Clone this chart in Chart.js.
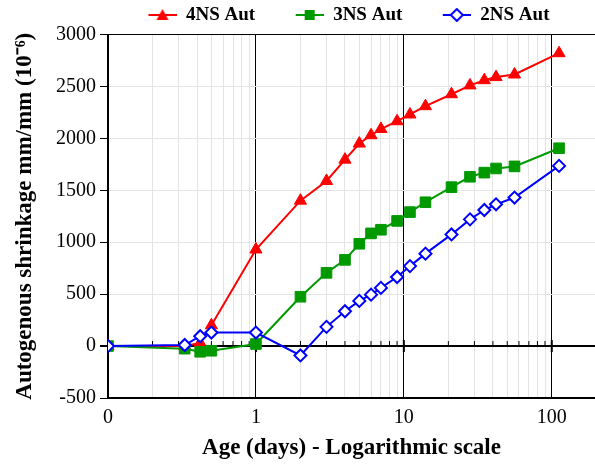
<!DOCTYPE html>
<html lang="en">
<head>
    <meta charset="UTF-8">
    <title>Autogenous shrinkage</title>
    <script src="https://cdn.jsdelivr.net/npm/chart.js"></script>
    <style>
        body {
            margin: 0;
            padding: 0;
            background-color: #fff;
            overflow: hidden;
        }
    </style>
</head>
<body>
<canvas id="shrinkChart" width="595" height="466"></canvas>

<script>
    // Age in days (0.1 stands for the "0" position of the log axis)
    const ages = [0.1, 0.33, 0.42, 0.5, 1, 2, 3, 4, 5, 6, 7, 9, 11, 14, 21, 28, 35, 42, 56, 112];

    const seriesNames = ['4NS Aut', '3NS Aut', '2NS Aut'];

    // Shrinkage values (10^-6)
    const ns4 = [0, 0, 30, 200, 930, 1400, 1590, 1795, 1950, 2030, 2090, 2165, 2230, 2310, 2425, 2510, 2560, 2590, 2615, 2820];
    const ns3 = [0, -25, -55, -45, 20, 475, 705, 830, 985, 1085, 1120, 1205, 1290, 1385, 1530, 1630, 1670, 1710, 1730, 1905];
    const ns2 = [0, 10, 95, 130, 130, -90, 185, 335, 435, 495, 560, 665, 770, 890, 1075, 1220, 1310, 1365, 1430, 1735];

    const majorTicks = [1, 10, 100];
    const yTicks = [-500, 0, 500, 1000, 1500, 2000, 2500, 3000];

    const colors = ['#ff0000', '#009a00', '#0000ff'];
    const pointStyles = ['triangle', 'rect', 'rectRot'];

    Chart.defaults.font.family = "'Liberation Serif', 'Times New Roman', serif";
    Chart.defaults.color = '#000';

    function toPoints(values) {
        return values.map((v, i) => ({ x: ages[i], y: v }));
    }

    // line + marker icon for the legend (blank space on the left keeps the items apart)
    const GAP = 35;
    const ICON_W = GAP + 28;
    function legendIcon(i) {
        const c = document.createElement('canvas');
        c.width = ICON_W;
        c.height = 14;
        const ctx = c.getContext('2d');
        const cx = GAP + 14;
        ctx.strokeStyle = colors[i];
        ctx.lineWidth = 2;
        ctx.beginPath();
        ctx.moveTo(GAP, 7);
        ctx.lineTo(ICON_W, 7);
        ctx.stroke();
        ctx.beginPath();
        if (i === 0) {
            ctx.moveTo(cx, 1); ctx.lineTo(cx + 6, 12); ctx.lineTo(cx - 6, 12); ctx.closePath();
            ctx.fillStyle = colors[i]; ctx.fill();
        } else if (i === 1) {
            ctx.rect(cx - 5, 2, 10, 10);
            ctx.fillStyle = colors[i]; ctx.fill();
        } else {
            ctx.moveTo(cx, 1); ctx.lineTo(cx + 6, 7); ctx.lineTo(cx, 13); ctx.lineTo(cx - 6, 7); ctx.closePath();
            ctx.fillStyle = '#fff'; ctx.fill(); ctx.stroke();
        }
        return c;
    }
    const icons = [legendIcon(0), legendIcon(1), legendIcon(2)];

    // ticks along the zero line
    const zeroTicks = {
        id: 'zeroTicks',
        beforeDatasetsDraw(chart) {
            const x = chart.scales.x;
            const y0 = chart.scales.y.getPixelForValue(0);
            const ctx = chart.ctx;
            ctx.save();
            ctx.strokeStyle = '#000';
            x.ticks.forEach(t => {
                if (t.value <= 0.1) return;
                const px = x.getPixelForValue(t.value);
                const major = majorTicks.includes(t.value);
                ctx.lineWidth = major ? 2 : 1;
                ctx.beginPath();
                ctx.moveTo(px, y0 - (major ? 6 : 5));
                ctx.lineTo(px, y0 + (major ? 6 : 0));
                ctx.stroke();
            });
            ctx.restore();
        }
    };

    const datasets = [ns4, ns3, ns2].map((vals, i) => ({
        label: seriesNames[i],
        data: toPoints(vals),
        borderColor: colors[i],
        backgroundColor: i === 2 ? '#fff' : colors[i],
        borderWidth: 2,
        pointStyle: pointStyles[i],
        pointRadius: [7, 7.5, 6][i],
        pointBorderWidth: i === 2 ? 2 : 1,
        pointBorderColor: colors[i],
        pointBackgroundColor: i === 2 ? '#fff' : colors[i],
        order: 3 - i,
        tension: 0
    }));

    new Chart(document.getElementById('shrinkChart'), {
        type: 'line',
        data: { datasets: datasets },
        plugins: [zeroTicks],
        options: {
            responsive: false,
            animation: false,
            layout: { padding: 0, autoPadding: false },
            plugins: {
                legend: {
                    position: 'top',
                    align: 'start',
                    fullSize: false,
                    labels: {
                        usePointStyle: true,
                        pointStyleWidth: ICON_W,
                        padding: 5.5,
                        color: '#000',
                        font: { size: 19, weight: 'bold' },
                        sort: (a, b) => a.datasetIndex - b.datasetIndex,
                        generateLabels(chart) {
                            const items = Chart.defaults.plugins.legend.labels.generateLabels(chart);
                            items.forEach(it => { it.pointStyle = icons[it.datasetIndex]; });
                            return items;
                        }
                    }
                },
                tooltip: { enabled: false }
            },
            scales: {
                x: {
                    type: 'logarithmic',
                    min: 0.1,
                    max: 196,
                    afterBuildTicks(scale) {
                        const ticks = [];
                        [0.1, 1, 10].forEach(d => {
                            for (let k = 1; k < 10; k++) {
                                ticks.push({ value: Math.round(k * d * 10) / 10 });
                            }
                        });
                        ticks.push({ value: 100 });
                        scale.ticks = ticks;
                    },
                    afterFit(scale) {
                        scale.height = 68;
                    },
                    ticks: {
                        autoSkip: false,
                        maxRotation: 0,
                        padding: 8,
                        font: { size: 20 },
                        callback: v => v === 0.1 ? '0' : (majorTicks.includes(v) ? String(v) : '')
                    },
                    grid: {
                        drawTicks: false,
                        color: c => (c.tick && majorTicks.includes(c.tick.value)) ? '#000' : '#e4e4e4',
                        lineWidth: 1
                    },
                    border: { color: '#000', width: 2 },
                    title: {
                        display: true,
                        text: 'Age (days) - Logarithmic scale',
                        font: { size: 23, weight: 'bold' },
                        padding: { top: 4, bottom: 4 }
                    }
                },
                y: {
                    min: -500,
                    max: 3000,
                    afterBuildTicks(scale) {
                        scale.ticks = yTicks.map(v => ({ value: v }));
                    },
                    afterFit(scale) { scale.width = 108; },
                    ticks: {
                        padding: 4,
                        font: { size: 20 },
                        callback: v => String(v)
                    },
                    grid: {
                        tickLength: 8,
                        tickColor: '#000',
                        color: c => (c.tick && (c.tick.value === 0 || c.tick.value === 3000)) ? '#000' : '#e4e4e4',
                        lineWidth: c => (c.tick && c.tick.value === 0) ? 2 : 1
                    },
                    border: { color: '#000', width: 2 },
                    title: {
                        display: true,
                        text: 'Autogenous shrinkage mm/mm (10\u207B\u2076)',
                        font: { size: 23, weight: 'bold' },
                        padding: { top: 11, bottom: 4 }
                    }
                }
            }
        }
    });
</script>
</body>
</html>
